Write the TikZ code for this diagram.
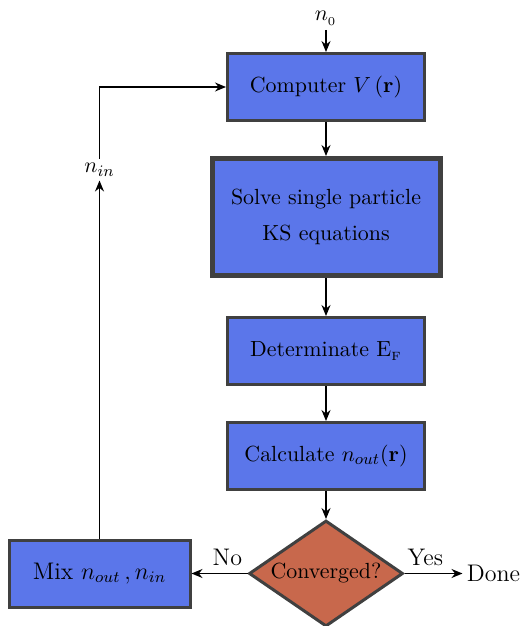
\documentclass[11pt,tikz,border=0pt]{standalone}
\usepackage{amsmath}
\usepackage{xcolor}
\usetikzlibrary{arrows.meta,positioning,shapes.geometric}
\definecolor{boxblue}{HTML}{5B76EA}
\definecolor{decred}{HTML}{C8684C}
\definecolor{edgegray}{HTML}{404040}

\begin{document}
\begin{tikzpicture}[
      x=0.5pt, y=-0.5pt,
      >={Stealth[length=5.5pt,width=4.5pt]},
      stage/.style={draw=edgegray, fill=boxblue, line width=1.5pt, align=center,
                    inner sep=2pt, minimum width=98.5pt, minimum height=33.5pt},
      bigstage/.style={stage, line width=2.5pt, minimum width=114pt, minimum height=58.5pt},
      mixstage/.style={stage, font=\large, minimum width=90.5pt},
      decision/.style={diamond, draw=edgegray, fill=decred, line width=1.5pt,
                       inner sep=1pt, aspect=1.45, minimum width=77pt, minimum height=53pt},
      flow/.style={->, line width=0.6pt},
      lbl/.style={inner sep=2pt},
      branch/.style={lbl, above, font=\large, pos=0.36, inner sep=3.5pt},
    ]
    \useasboundingbox (0,0) rectangle (521,626);

    % --- main column of the self-consistent loop ----------------------------------
    \node[stage] (potential) at (326,87) {Computer $V\,(\mathbf{r})$};
    \node[bigstage, below=17pt of potential] (kseq) {Solve single particle\\[4pt]KS equations};
    \node[stage, below=19pt of kseq] (fermi) {Determinate $\mathrm{E}_{\scriptscriptstyle\mathrm{F}}$};
    \node[stage, below=17.5pt of fermi] (density) {Calculate~$n_{out}(\mathbf{r})$};
    \node[decision, below=14pt of density] (conv) {Converged?};

    % --- branches and feedback ----------------------------------------------------
    \node[lbl, above=11pt of potential] (start) {$n_{_0}$};
    \node[mixstage, left=28pt of conv] (mix) {Mix $n_{out}\,, n_{in}$};
    \node[lbl, right=29pt of conv, font=\large] (done) {Done};
    \node[lbl, above=179pt of mix] (nin) {$n_{in}$};

    \draw[flow] (start) -- (potential);
    \draw[flow] (potential) -- (kseq);
    \draw[flow] (kseq) -- (fermi);
    \draw[flow] (fermi) -- (density);
    \draw[flow] (density) -- (conv);
    \draw[flow] (conv) -- node[branch] {No} (mix);
    \draw[flow] (conv) -- node[branch] {Yes} (done);
    \draw[flow] (mix) -- (nin);
    \draw[flow] (nin.north) |- (potential.west);
  \end{tikzpicture}
\end{document}
